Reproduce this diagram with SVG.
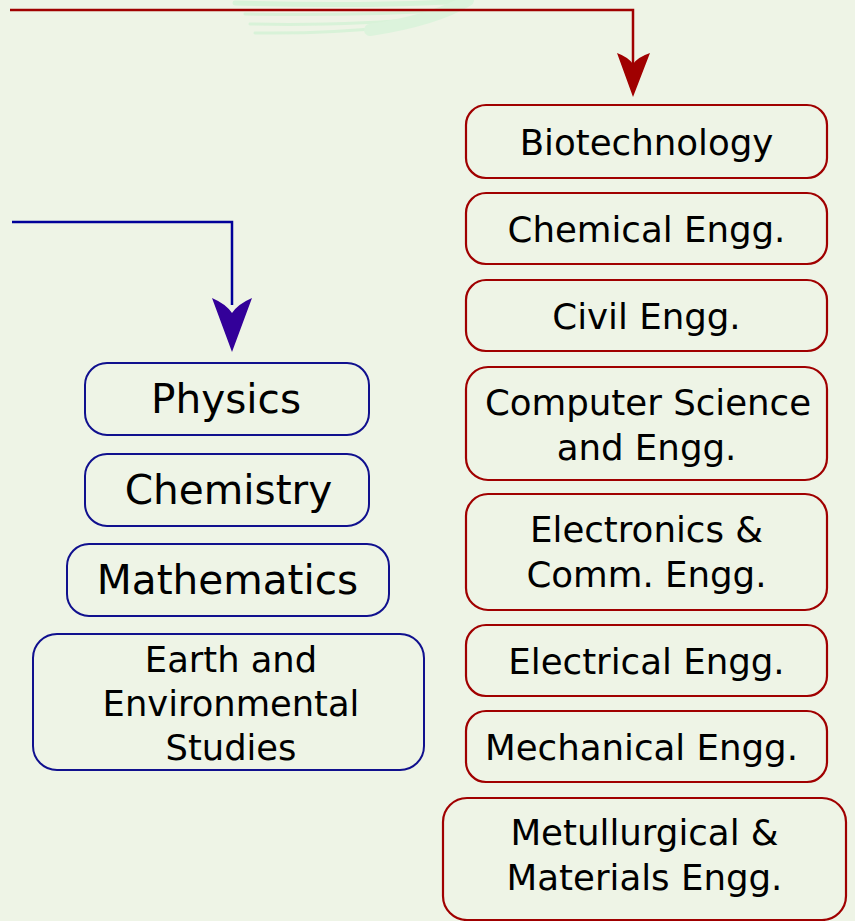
<svg xmlns="http://www.w3.org/2000/svg" width="855" height="921" viewBox="0 0 855 921">
<defs>
<style>
.rb{fill:none;stroke:#a00000;stroke-width:2.2}
.bb{fill:none;stroke:#10108e;stroke-width:2}
.t{font-family:"DejaVu Sans","Verdana",sans-serif;fill:#000;text-anchor:middle}
.r{font-size:35.6px}
.l{font-size:40.6px}
.e{font-size:35.3px}
</style>
</defs>
<rect width="855" height="921" fill="#eef4e6"/>
<g id="watermark" fill="none" stroke="#d8f2d8" stroke-linecap="round">
<path d="M235,3 Q360,7 470,1" stroke-width="5"/>
<path d="M245,14 Q360,16 455,10" stroke-width="3"/>
<path d="M250,24 Q350,26 430,18" stroke-width="3"/>
<path d="M255,33 Q330,34 400,26" stroke-width="3"/>
<path d="M370,30 Q435,20 468,0" stroke-width="12" stroke="#dcf3dc"/>
</g>
<g id="connectors">
<polyline points="10,10 633,10 633,70" fill="none" stroke="#a00000" stroke-width="2.5"/>
<path d="M633,97 L617,53 Q628,57 633,64 Q638,57 650,53 Z" fill="#a00000"/>
<polyline points="12,222 232,222 232,305" fill="none" stroke="#000099" stroke-width="2.5"/>
<path d="M232,352 L212,298 Q226,304 232,313 Q238,304 252,298 Z" fill="#330099"/>
</g>
<g id="biotechnology"><rect class="rb" x="466" y="105" width="361" height="73" rx="20"/><text class="t r" x="646.5" y="155">Biotechnology</text></g>
<g id="chemical"><rect class="rb" x="466" y="193" width="361" height="71" rx="20"/><text class="t r" x="646.5" y="242">Chemical Engg.</text></g>
<g id="civil"><rect class="rb" x="466" y="280" width="361" height="71" rx="20"/><text class="t r" x="646.5" y="329">Civil Engg.</text></g>
<g id="cse"><rect class="rb" x="466" y="367" width="361" height="113" rx="22"/><text class="t r" x="648" y="415">Computer Science</text><text class="t r" x="646.5" y="460">and Engg.</text></g>
<g id="ece"><rect class="rb" x="466" y="494" width="361" height="116" rx="22"/><text class="t r" x="646.5" y="542">Electronics &amp;</text><text class="t r" x="646.5" y="587">Comm. Engg.</text></g>
<g id="electrical"><rect class="rb" x="466" y="625" width="361" height="71" rx="20"/><text class="t r" x="646.5" y="674">Electrical Engg.</text></g>
<g id="mechanical"><rect class="rb" x="466" y="711" width="361" height="71" rx="20"/><text class="t r" x="641.5" y="760">Mechanical Engg.</text></g>
<g id="metallurgical"><rect class="rb" x="443" y="798" width="403" height="122" rx="24"/><text class="t r" x="644.5" y="845">Metullurgical &amp;</text><text class="t r" x="644.5" y="890">Materials Engg.</text></g>
<g id="physics"><rect class="bb" x="85" y="363" width="284" height="72" rx="22"/><text class="t l" x="226" y="413">Physics</text></g>
<g id="chemistry"><rect class="bb" x="85" y="454" width="284" height="72" rx="22"/><text class="t l" x="228.5" y="504">Chemistry</text></g>
<g id="mathematics"><rect class="bb" x="67" y="544" width="322" height="72" rx="22"/><text class="t l" x="227.5" y="594">Mathematics</text></g>
<g id="earth"><rect class="bb" x="33" y="634" width="391" height="136" rx="24"/><text class="t e" x="231" y="672">Earth and</text><text class="t e" x="231" y="716">Environmental</text><text class="t e" x="231" y="760">Studies</text></g>
</svg>
